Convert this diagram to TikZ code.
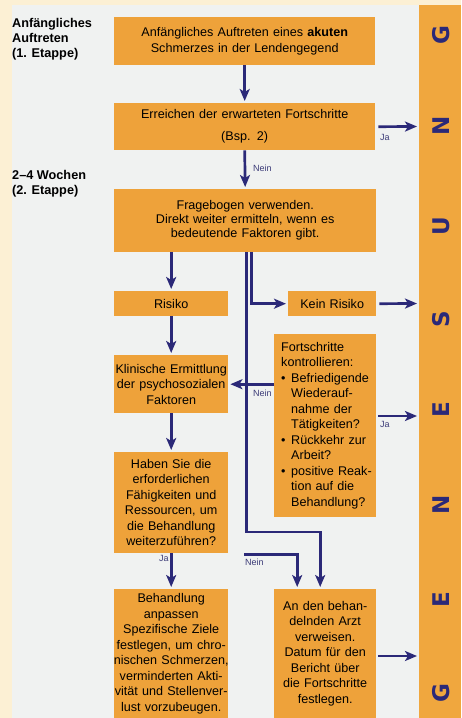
\documentclass[tikz,border=0pt]{standalone}
\usepackage{fontspec}
\setmainfont{Liberation Sans}
\newfontfamily\barfont{DejaVu Sans}
\usetikzlibrary{arrows.meta}
\definecolor{boxor}{RGB}{238,162,58}
\definecolor{baror}{RGB}{240,167,62}
\definecolor{navy}{RGB}{43,41,120}
\definecolor{pagebg}{RGB}{240,242,241}
\definecolor{cream}{RGB}{252,240,212}
\definecolor{lblcol}{RGB}{60,60,120}
\newcommand{\bulletline}[1]{\mbox{\makebox[10pt][l]{•}#1}}
\newcommand{\contline}[1]{\mbox{\hspace*{10pt}#1}}
\newcommand{\ctrline}[1]{\makebox[0pt][c]{#1}}
\begin{document}
\begin{tikzpicture}[x=1pt,y=-1pt,
  box/.style={fill=boxor, draw=none, inner sep=0pt, anchor=north west, align=center,
    font=\fontsize{12.6}{15.5}\selectfont},
  conn/.style={draw=navy, line width=2.7pt, -{Stealth[length=12pt,width=10pt,inset=3pt]}, shorten >=2pt},
  lbl/.style={font=\fontsize{9}{10}\selectfont, text=lblcol, inner sep=0pt, anchor=west},
  stage/.style={font=\bfseries\fontsize{12.7}{15}\selectfont, align=left, inner sep=0pt, anchor=north west},
  barletter/.style={rotate=90, font=\barfont\bfseries\fontsize{23}{23}\selectfont, text=navy, inner sep=0pt}
]
\fill[cream] (0,0) rectangle (461,718);
\fill[pagebg] (12,5) rectangle (419,718);
\fill[baror] (419,5) rectangle (461,718);
\useasboundingbox (0,0) rectangle (461,718);

% stage labels
\node[stage] (s1) at (12,18) {Anfängliches\\Auftreten\\(1. Etappe)};
\node[stage] (s2) at (12,170) {2–4 Wochen\\(2. Etappe)};

% boxes
\node[box, minimum width=261pt, text width=261pt, minimum height=48pt] (b1) at (114,17)
  {Anfängliches Auftreten eines \textbf{akuten}\\Schmerzes in der Lendengegend};
\node[box, minimum width=261pt, text width=261pt, minimum height=47pt,
  font=\fontsize{12.6}{22}\selectfont] (b2) at (114,103)
  {Erreichen der erwarteten Fortschritte\\(Bsp. 2)};
\node[box, minimum width=262pt, text width=262pt, minimum height=63pt,
  font=\fontsize{12.6}{14}\selectfont] (b3) at (114,189)
  {Fragebogen verwenden.\\Direkt weiter ermitteln, wenn es\\bedeutende Faktoren gibt.};
\node[box, minimum width=114pt, text width=114pt, minimum height=25pt] (risiko) at (114,291) {Risiko};
\node[box, minimum width=88pt, text width=88pt, minimum height=25pt] (kein) at (288,291) {Kein Risiko};
\node[box, minimum width=114pt, text width=114pt, minimum height=58pt] (klin) at (114,355)
  {Klinische Ermittlung\\der psychosozialen\\Faktoren};
\node[box, minimum width=102pt, text width=88pt, inner xsep=7pt, minimum height=183pt, align=left] (fort) at (274,334)
  {Fortschritte\\kontrollieren:\\\bulletline{Befriedigende}\\\contline{Wiederauf-}\\\contline{nahme der}\\\contline{Tätigkeiten?}\\\bulletline{Rückkehr zur}\\\contline{Arbeit?}\\\bulletline{positive Reak-}\\\contline{tion auf die}\\\contline{Behandlung?}};
\node[box, minimum width=114pt, text width=114pt, minimum height=101pt] (haben) at (114,452)
  {Haben Sie die\\erforderlichen\\Fähigkeiten und\\Ressourcen, um\\die Behandlung\\weiterzuführen?};
\node[box, minimum width=114pt, text width=114pt, minimum height=129pt] (beh) at (114,589)
  {Behandlung\\anpassen\\Spezifische Ziele\\\ctrline{festlegen, um chro-}\\\ctrline{nischen Schmerzen,}\\\ctrline{verminderten Akti-}\\\ctrline{vität und Stellenver-}\\\ctrline{lust vorzubeugen.}};
\node[box, minimum width=102pt, text width=102pt, minimum height=129pt] (arzt) at (274,589)
  {An den behan-\\delnden Arzt\\verweisen.\\Datum für den\\Bericht über\\die Fortschritte\\festlegen.};

% bar letters
\foreach \L/\yy [count=\i] in {G/35,N/126,U/226,S/319,E/410,N/505,E/600,G/693}
  \node[barletter] (bl\i) at (441.5,\yy) {\L};

% end points on the bar
\coordinate (g2) at (417,126.5);
\coordinate (g3) at (417,303.5);
\coordinate (g5) at (417,416);
\coordinate (g8) at (417,656);

% connectors
\draw[conn] (b1.south) -- (b2.north);
\draw[conn, shorten <=3pt, shorten >=0pt] (b2.east) -- (g2);
\node[lbl] (ja1) at (380,137) {Ja};
\draw[conn] (b2.south) -- (b3.north);
\node[lbl] (nein1) at (253,168) {Nein};
\draw[conn] (b3.south -| risiko.north) -- (risiko.north);
\draw[conn] ([xshift=6.5pt]b3.south) |- (kein.west);
\draw[conn, shorten <=3pt, shorten >=0pt] (kein.east) -- (g3);
\draw[conn] ([xshift=1pt]b3.south) -- ([xshift=1pt]b3.south |- 0,532) -| ([xshift=-5pt]arzt.north);
\draw[conn] (risiko.south) -- (klin.north);
\draw[conn] (fort.west |- klin.east) -- (klin.east);
\node[lbl] (nein2) at (253,393) {Nein};
\draw[conn, shorten <=2pt, shorten >=0pt] (fort.east |- g5) -- (g5);
\node[lbl] (ja2) at (380,424) {Ja};
\draw[conn] (klin.south) -- (haben.north);
\draw[conn] (haben.south) -- (beh.north);
\node[lbl] (ja3) at (159,558) {Ja};
\draw[conn] ([xshift=16pt,yshift=-1pt]haben.south east) -| ([xshift=-28pt]arzt.north);
\node[lbl] (nein3) at (245,562) {Nein};
\draw[conn, shorten <=2pt, shorten >=0pt] (arzt.east |- g8) -- (g8);
\end{tikzpicture}
\end{document}
